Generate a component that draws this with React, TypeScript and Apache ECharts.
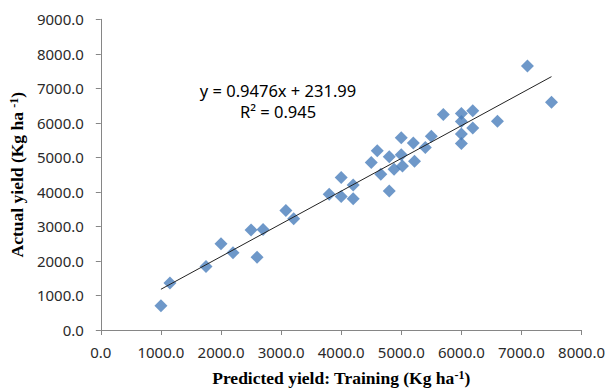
import React, { useEffect, useRef } from "react";
import * as echarts from "echarts";

const predicted = [
  1000, 1150, 1750, 2000, 2200, 2500, 2600, 2700, 3080, 3210,
  3800, 4000, 4000, 4200, 4200, 4500, 4600, 4660, 4800, 4800,
  4880, 5000, 5000, 5020, 5200, 5220, 5400, 5500, 5700, 6000,
  6000, 6000, 6000, 6190, 6190, 6600, 7100, 7500,
];
const actual = [
  700, 1360, 1840, 2500, 2240, 2900, 2110, 2910, 3460, 3220,
  3930, 4420, 3870, 4200, 3800, 4850, 5190, 4510, 5020, 4030,
  4660, 5570, 5080, 4750, 5420, 4890, 5290, 5610, 6240, 6270,
  6040, 5680, 5400, 6350, 5850, 6050, 7650, 6600,
];
const trendSlope = 0.9476;
const trendIntercept = 231.99;
const equationText = "y = 0.9476x + 231.99";
const r2Text = "R² = 0.945";
const xTitle = "Predicted yield: Training (Kg ha{sup|-1})";
const yTitle = "Actual yield (Kg ha {sup|-1})";

export default function App() {
  const ref = useRef<HTMLDivElement>(null);
  useEffect(() => {
    if (!ref.current) return;
    const chart = echarts.init(ref.current, undefined, { renderer: "svg" });
    const points = predicted.map((x, i) => [x, actual[i]]);
    const xMin = Math.min(...predicted);
    const xMax = Math.max(...predicted);
    const trend = [
      [xMin, trendSlope * xMin + trendIntercept],
      [xMax, trendSlope * xMax + trendIntercept],
    ];
    const tickFont = { fontFamily: "Noto Sans", fontSize: 15, color: "#2a2a2a" };
    const titleFont = {
      fontFamily: "Liberation Serif",
      fontWeight: "bold" as const,
      fontSize: 17.5,
      color: "#000000",
    };
    const supStyle = { ...titleFont, fontSize: 12, verticalAlign: "top", padding: [0, 0, 6, 0] };
    chart.setOption({
      animation: false,
      backgroundColor: "#ffffff",
      grid: { left: 100.5, right: 25, top: 19.3, bottom: 60.3, containLabel: false },
      xAxis: {
        type: "value",
        min: 0,
        max: 8000,
        interval: 1000,
        name: xTitle,
        nameLocation: "middle",
        nameGap: 39,
        nameTextStyle: { ...titleFont, rich: { sup: supStyle } },
        axisLine: { show: true, lineStyle: { color: "#868686", width: 1 } },
        axisTick: { show: true, length: 5, lineStyle: { color: "#868686" } },
        axisLabel: { ...tickFont, margin: 14, formatter: (v: number) => v.toFixed(1) },
        splitLine: { show: false },
      },
      yAxis: {
        type: "value",
        min: 0,
        max: 9000,
        interval: 1000,
        name: yTitle,
        nameLocation: "middle",
        nameGap: 71,
        nameTextStyle: { ...titleFont, rich: { sup: supStyle } },
        axisLine: { show: true, lineStyle: { color: "#868686", width: 1 } },
        axisTick: { show: true, length: 5, lineStyle: { color: "#868686" } },
        axisLabel: { ...tickFont, margin: 17, formatter: (v: number) => v.toFixed(1) },
        splitLine: { show: false },
      },
      series: [
        {
          type: "scatter",
          data: points,
          symbol: "diamond",
          symbolSize: 13,
          itemStyle: { color: "#4a7ebb" },
          z: 2,
        },
        {
          type: "line",
          data: trend,
          showSymbol: false,
          symbol: "none",
          lineStyle: { color: "#222222", width: 1 },
          z: 3,
        },
      ],
      graphic: [
        {
          type: "text",
          x: 278,
          y: 90,
          style: {
            text: equationText,
            fontFamily: "Noto Sans",
            fontSize: 16.5,
            fill: "#000000",
            align: "center",
            verticalAlign: "middle",
          },
        },
        {
          type: "text",
          x: 278,
          y: 111,
          style: {
            text: r2Text,
            fontFamily: "Noto Sans",
            fontSize: 16.5,
            fill: "#000000",
            align: "center",
            verticalAlign: "middle",
          },
        },
      ],
    });
    return () => chart.dispose();
  }, []);
  return (
    <div
      ref={ref}
      style={{ position: "fixed", left: 0, top: 0, width: 608, height: 392, background: "#fff" }}
    />
  );
}
